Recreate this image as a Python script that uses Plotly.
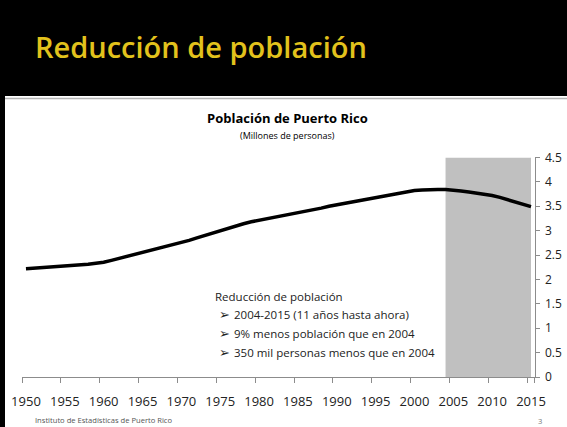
import plotly.graph_objects as go

# ---- data ----
years = list(range(1950, 2016))
population = [
    2.22, 2.23, 2.24, 2.25, 2.26, 2.27, 2.28, 2.29, 2.31, 2.33,
    2.35, 2.39, 2.43, 2.47, 2.51, 2.55, 2.59, 2.63, 2.67, 2.71,
    2.75, 2.80, 2.85, 2.90, 2.95, 3.00, 3.05, 3.10, 3.14, 3.18,
    3.21, 3.24, 3.27, 3.30, 3.33, 3.36, 3.39, 3.42, 3.46, 3.50,
    3.53, 3.56, 3.59, 3.62, 3.65, 3.68, 3.71, 3.74, 3.77, 3.80,
    3.82, 3.83, 3.84, 3.84, 3.84, 3.83, 3.81, 3.79, 3.77, 3.75,
    3.72, 3.68, 3.63, 3.59, 3.54, 3.49,
]
shade_start, shade_end = 2004, 2015
x_tick_labels = [str(y) for y in range(1950, 2016, 5)]
y_tick_vals = [0, 0.5, 1, 1.5, 2, 2.5, 3, 3.5, 4, 4.5]
y_tick_text = ["0", "0.5", "1", "1.5", "2", "2.5", "3", "3.5", "4", "4.5"]

header_title = "Reducción de población"
chart_title = "Población de Puerto Rico"
chart_subtitle = "(Millones de personas)"
note_heading = "Reducción de población"
note_bullets = [
    "2004-2015 (11 años hasta ahora)",
    "9% menos población que en 2004",
    "350 mil personas menos que en 2004",
]
footer_text = "Instituto de Estadísticas de Puerto Rico"
page_number = "3"

W, H = 567, 427
FONT = "Open Sans"

def px(x):
    return x / W

def py(y):
    return 1 - y / H

fig = go.Figure()

fig.add_trace(go.Scatter(
    x=years, y=population, mode="lines",
    line=dict(color="black", width=3.5),
    hoverinfo="skip", showlegend=False,
))

# shaded decline period
fig.add_shape(type="rect", xref="x", yref="y",
              x0=shade_start, x1=shade_end, y0=0, y1=4.5,
              fillcolor="#c0c0c0", line=dict(width=0), layer="below")

# page decoration: header band, left bar, separator line
fig.add_shape(type="rect", xref="paper", yref="paper",
              x0=0, x1=1, y0=py(96), y1=1,
              fillcolor="black", line=dict(width=0), layer="below")
fig.add_shape(type="rect", xref="paper", yref="paper",
              x0=0, x1=px(5), y0=0, y1=1,
              fillcolor="black", line=dict(width=0), layer="below")
fig.add_shape(type="line", xref="paper", yref="paper",
              x0=px(5), x1=1, y0=py(98.5), y1=py(98.5),
              line=dict(color="#b5b5b5", width=1.5))

annotations = [
    dict(text=header_title, x=px(33), y=py(46), xanchor="left", yanchor="middle",
         font=dict(family=FONT, size=29, color="#e2c21c", weight=600)),
    dict(text="<b>" + chart_title + "</b>", x=px(287), y=py(118),
         xanchor="center", yanchor="middle",
         font=dict(family=FONT, size=13, color="black")),
    dict(text=chart_subtitle, x=px(287), y=py(135),
         xanchor="center", yanchor="middle",
         font=dict(family=FONT, size=9, color="black")),
    dict(text=note_heading, x=px(213), y=py(296), xanchor="left", yanchor="middle",
         font=dict(family=FONT, size=11.5, color="#222")),
    dict(text=footer_text, x=px(33), y=py(420), xanchor="left", yanchor="middle",
         font=dict(family=FONT, size=7.6, color="#555")),
    dict(text=page_number, x=px(540), y=py(421), xanchor="center", yanchor="middle",
         font=dict(family=FONT, size=7.6, color="#777")),
]
for i, b in enumerate(note_bullets):
    yy = 314.5 + i * 19
    annotations.append(dict(text="➢", x=px(217), y=py(yy), xanchor="left", yanchor="middle",
                            font=dict(family="DejaVu Sans", size=13, color="#222")))
    annotations.append(dict(text=b, x=px(232), y=py(yy), xanchor="left", yanchor="middle",
                            font=dict(family=FONT, size=11.5, color="#222")))
for a in annotations:
    a.update(xref="paper", yref="paper", showarrow=False)

fig.update_layout(
    width=W, height=H,
    margin=dict(l=0, r=0, t=0, b=0, autoexpand=False),
    paper_bgcolor="white", plot_bgcolor="white",
    annotations=annotations,
    xaxis=dict(
        domain=[px(21.7), px(534.5)],
        range=[1949.45, 2015.45],
        automargin=False,
        tickmode="array",
        tickvals=list(range(1950, 2016, 5)),
        ticktext=x_tick_labels,
        ticks="",
        ticklabelstandoff=12,
        minor=dict(tickmode="array", tickvals=[y - 0.5 for y in range(1950, 2016, 5)] + [2015.45],
                   ticks="outside", ticklen=5, tickcolor="#8c8c8c", tickwidth=1),
        showline=True, linecolor="#8c8c8c", linewidth=1,
        showgrid=False, zeroline=False,
        tickfont=dict(family=FONT, size=13, color="#222"),
        fixedrange=True,
    ),
    yaxis=dict(
        domain=[py(377), py(157.4)],
        range=[0, 4.5],
        automargin=False,
        side="right",
        tickmode="array", tickvals=y_tick_vals, ticktext=y_tick_text,
        ticks="outside", ticklen=4, tickcolor="#8c8c8c",
        ticklabelstandoff=3,
        showline=True, linecolor="#8c8c8c", linewidth=1,
        showgrid=False, zeroline=False,
        tickfont=dict(family=FONT, size=12, color="#222"),
        fixedrange=True,
    ),
)

fig.write_html(
    "out.html",
    config={"displayModeBar": False},
    post_script="document.body.style.margin='0';document.body.style.overflow='hidden';",
)
